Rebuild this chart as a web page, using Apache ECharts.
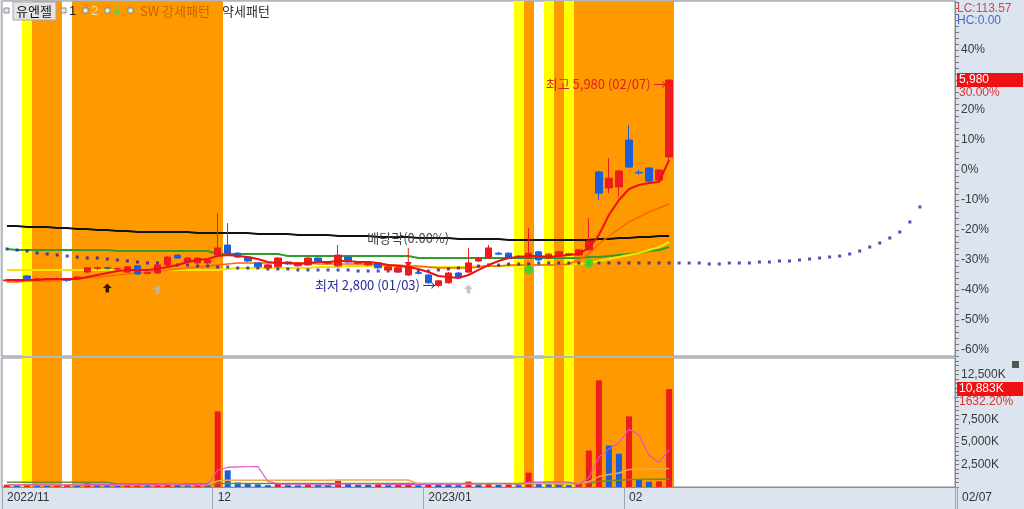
<!DOCTYPE html>
<html><head><meta charset="utf-8">
<script src="https://cdn.jsdelivr.net/npm/echarts@6.0.0/dist/echarts.min.js"></script>
<style>html,body{margin:0;padding:0;background:#fff}#c{width:1024px;height:509px}</style>
</head><body><div id="c"></div>
<script>
// ---------- DATA ----------
const dates = ['2022/11/02','2022/11/03','2022/11/04','2022/11/07','2022/11/08','2022/11/09','2022/11/10','2022/11/11','2022/11/14','2022/11/15','2022/11/16','2022/11/17','2022/11/18','2022/11/21','2022/11/22','2022/11/23','2022/11/24','2022/11/25','2022/11/28','2022/11/29','2022/11/30',
'2022/12/01','2022/12/02','2022/12/05','2022/12/06','2022/12/07','2022/12/08','2022/12/09','2022/12/12','2022/12/13','2022/12/14','2022/12/15','2022/12/16','2022/12/19','2022/12/20','2022/12/21','2022/12/22','2022/12/23','2022/12/26','2022/12/27','2022/12/28','2022/12/29',
'2023/01/02','2023/01/03','2023/01/04','2023/01/05','2023/01/06','2023/01/09','2023/01/10','2023/01/11','2023/01/12','2023/01/13','2023/01/16','2023/01/17','2023/01/18','2023/01/19','2023/01/20','2023/01/25','2023/01/26','2023/01/27','2023/01/30','2023/01/31',
'2023/02/01','2023/02/02','2023/02/03','2023/02/06','2023/02/07'];
const futureSlots = 28;
const monthStartIdx = [0, 21, 42, 62];
const monthLabels = ['2022/11', '12', '2023/01', '02'];
const basePrice = 4600;
const pctLabels = [-60, -50, -40, -30, -20, -10, 0, 10, 20, 30, 40];
const volLabels = [2500, 5000, 7500, 12500];

const open  = [2900,2900,2975,2925,2920,2925,2920,2945,3035,3095,3105,3080,3035,3130,3015,3020,3145,3295,3190,3175,3175,3295,3450,3325,3265,3175,3100,3115,3190,3130,3145,3250,3180,3130,3265,3180,3145,3175,3065,3035,2990,3025,2990,2830,2870,3020,3035,3205,3250,3325,3325,3280,3250,3345,3250,3295,3315,3295,3375,4570,4325,4340,5060,4565,4630,4445,4800];
const close = [2915,2915,2930,2930,2930,2935,2910,2960,3100,3100,3095,3090,3115,3005,3025,3145,3265,3250,3250,3250,3220,3405,3325,3265,3205,3115,3145,3250,3160,3175,3250,3205,3170,3295,3190,3170,3190,3100,3115,3100,3115,3015,2870,2900,3020,2960,3175,3250,3405,3310,3250,3265,3325,3220,3310,3345,3305,3375,3510,4245,4475,4585,4645,4555,4430,4600,5980];
const low   = [2890,2885,2915,2905,2910,2915,2885,2935,3020,3065,3070,3060,3030,2995,3000,3010,3130,3235,3180,3165,3160,3280,3310,3250,3190,3100,3085,3100,3145,3115,3130,3190,3150,3115,3175,3150,3130,3085,3050,3020,2975,3000,2855,2800,2855,2945,3020,3190,3235,3295,3235,3250,3235,3205,3235,3280,3290,3280,3360,4140,4245,4185,4630,4530,4415,4430,4755];
const high  = [2930,2930,2990,2950,2945,2950,2945,2975,3110,3120,3115,3100,3125,3140,3040,3155,3280,3305,3265,3260,3235,3940,3785,3340,3280,3190,3160,3265,3205,3190,3265,3265,3195,3450,3280,3195,3205,3190,3130,3115,3130,3040,3005,2915,3035,3035,3405,3265,3450,3345,3340,3295,3710,3360,3325,3360,3330,3390,3865,4590,4785,4600,5290,4600,4645,4615,5980];

const maRed    = [2913,2913,2913,2913,2929,2929,2929,2929,2959,2990,3021,3051,3067,3067,3067,3082,3113,3143,3189,3220,3235,3281,3297,3281,3266,3235,3189,3174,3174,3159,3174,3189,3189,3205,3205,3189,3189,3174,3143,3128,3113,3082,3036,2975,2959,2944,2990,3067,3143,3205,3251,3266,3281,3281,3266,3281,3297,3312,3404,3603,3910,4140,4309,4370,4401,4416,4753];
const maOrange = [2883,2883,2898,2898,2898,2913,2913,2929,2944,2959,2975,2990,3005,3021,3036,3051,3067,3082,3097,3113,3128,3143,3159,3174,3174,3174,3174,3174,3174,3174,3174,3159,3159,3159,3159,3159,3159,3143,3143,3143,3128,3128,3113,3097,3097,3097,3097,3113,3128,3128,3143,3143,3143,3143,3143,3143,3159,3220,3312,3465,3588,3695,3803,3879,3956,4017,4079];
const maYellow = [3067,3067,3067,3067,3067,3067,3067,3067,3067,3067,3067,3067,3067,3067,3067,3067,3067,3067,3067,3067,3067,3067,3082,3097,3097,3097,3097,3097,3097,3097,3097,3113,3113,3113,3128,3128,3128,3128,3128,3128,3128,3113,3113,3113,3113,3113,3113,3128,3128,3128,3128,3143,3143,3143,3143,3143,3143,3159,3174,3205,3235,3266,3297,3327,3373,3419,3496];
const maGreen  = [3389,3373,3373,3373,3373,3373,3373,3373,3373,3373,3373,3358,3358,3358,3358,3358,3358,3358,3358,3358,3358,3312,3312,3312,3312,3312,3312,3312,3281,3281,3281,3281,3281,3281,3281,3281,3281,3281,3281,3281,3281,3251,3251,3251,3251,3251,3251,3251,3251,3251,3251,3251,3251,3251,3251,3251,3251,3251,3266,3266,3281,3297,3312,3327,3358,3373,3419];
const maBlack  = [3741,3741,3726,3726,3726,3711,3711,3695,3695,3680,3680,3665,3665,3649,3649,3649,3649,3649,3649,3634,3634,3634,3634,3634,3634,3619,3619,3619,3619,3603,3603,3603,3603,3588,3588,3588,3588,3573,3573,3573,3573,3557,3557,3557,3557,3542,3542,3542,3542,3542,3527,3527,3527,3527,3527,3527,3527,3527,3527,3542,3542,3557,3557,3573,3573,3588,3588];
const leadSpan = [3389,3373,3358,3327,3312,3297,3281,3266,3251,3251,3235,3220,3205,3189,3174,3174,3159,3143,3143,3128,3128,3113,3113,3097,3097,3097,3082,3082,3082,3067,3067,3067,3067,3067,3067,3051,3051,3051,3051,3051,3051,3051,3051,3067,3082,3097,3113,3128,3143,3143,3159,3159,3159,3174,3174,3174,3174,3174,3174,3174,3174,3174,3174,3174,3174,3174,3174,3174,3174,3174,3159,3159,3174,3174,3174,3189,3189,3205,3205,3220,3235,3251,3266,3281,3312,3358,3419,3481,3557,3649,3803,4033];

const volume  = [250,200,300,180,150,200,250,180,400,250,200,150,300,350,200,300,400,250,200,220,180,8400,1850,500,350,300,200,350,200,180,300,250,200,700,350,250,220,300,200,250,350,200,400,350,300,200,600,300,450,250,300,200,1600,400,300,250,200,350,4050,11850,4600,3700,7850,850,590,628.276,10883];
const volMa5  = [240,230,240,230,220,220,230,210,260,260,260,240,260,290,260,260,310,320,290,270,250,1890,2170,2230,2250,2280,640,340,280,250,250,240,230,330,360,350,340,360,260,260,260,260,280,310,320,300,370,350,370,360,380,300,560,550,560,550,550,300,1030,3340,4210,4910,6410,5770,3520,2720,4160];
const volMa20 = [260,255,260,255,250,250,255,250,260,260,255,250,255,260,255,260,265,265,260,255,250,660,740,750,760,760,755,760,760,755,760,760,755,780,785,785,780,785,780,780,785,330,330,330,330,320,340,340,350,350,350,345,400,400,400,400,400,400,580,1160,1380,1560,1940,1970,1990,2010,2050];
const volMa60 = [520,520,520,520,520,520,520,520,520,520,520,340,340,340,340,340,340,340,340,340,340,380,380,380,380,380,380,380,380,380,380,380,380,380,380,380,380,380,380,380,380,380,380,380,380,380,380,380,380,380,380,380,380,380,380,380,380,380,450,620,690,740,830,840,850,860,890];

const orangeBands = [[3,5],[7,21],[52,52],[55,55],[57,66]];
const yellowBands = [[2,2],[51,51],[54,54],[56,56]];
const signalUpBlack = [[10, 2790]];
const signalUpGray  = [[15, 2765],[46, 2775]];
const signalGreen   = [[52, 3067],[58, 3174]];
const exDivIdx = 40, exDivText = '배당락(0.00%)';
const legendNames = ['유엔젤', '1', '2', '4', 'SW 강세패턴', '약세패턴'];
const lcText = 'LC:113.57', hcText = 'HC:0.00';

// ---------- BUILD ----------
const N = dates.length, TOTAL = N + futureSlots;
const cats = dates.concat(Array.from({length: futureSlots}, (_, k) => 'F' + (k + 1)));
const RED = '#ee1c1c', BLUE = '#1d5fd6', ORANGE = '#ff9900', YELLOW = '#ffff00';
const FONT = 'Liberation Sans';
const KFONT = 'Noto Sans CJK KR';
const toPrice = p => basePrice * (1 + p / 100);
const yMin = toPrice(-62), yMax = toPrice((170 - 1) / 3);
const volMax = 14333;

const bandRanges = orangeBands.map(r => [r[0], r[1], 0]).concat(yellowBands.map(r => [r[0], r[1], 1]));
const bandColors = [ORANGE, YELLOW];
const bandSeries = (xi, yi) => ({type: 'custom', xAxisIndex: xi, yAxisIndex: yi, data: bandRanges, silent: true, z: 0,
  encode: {x: [0, 1]},
  renderItem: (params, api) => {
    const s = api.value(0), e = api.value(1), c = bandColors[api.value(2)];
    const w = api.size([1, 0])[0];
    const x0 = Math.round(api.coord([s, 0])[0] - w / 2), x1 = Math.round(api.coord([e, 0])[0] + w / 2);
    const cs = params.coordSys;
    return {type: 'rect', shape: {x: x0, y: cs.y, width: x1 - x0, height: cs.height}, style: {fill: c}};
  }});

const candleData = dates.map((d, i) => [open[i], close[i], low[i], high[i]]);
const volData = volume.map((v, i) => ({value: v, itemStyle: {color: (i === 0 || v >= volume[i - 1]) ? RED : BLUE}}));

const pctTicks = []; for (let p = -62; p <= 56; p += 2) pctTicks.push(toPrice(p));
const volTicks = []; for (let v = 0; v <= 14000; v += 500) volTicks.push(v);

let hiIdx = 0, loIdx = 0;
high.forEach((v, i) => { if (v > high[hiIdx]) hiIdx = i; });
low.forEach((v, i) => { if (v < low[loIdx]) loIdx = i; });
const mmdd = s => s.slice(5);
const fmt = v => Math.round(v).toLocaleString('en-US');
const isMonthStart = idx => monthStartIdx.indexOf(idx) >= 0;

const lineS = (data, color, width, z) => ({type: 'line', xAxisIndex: 0, yAxisIndex: 0, data, showSymbol: false, symbol: 'none',
  lineStyle: {color, width}, z, silent: true, animation: false});
const volLine = (data, color, width) => ({type: 'line', xAxisIndex: 2, yAxisIndex: 1, data, showSymbol: false, symbol: 'none',
  lineStyle: {color, width}, z: 4, silent: true});
const arrowUp = 'path://M5,0 L10,5 L7,5 L7,10 L3,10 L3,5 L0,5 Z';
const arrowDown = 'path://M3,0 L4,0 L4,14 L7,14 L3.5,20 L0,14 L3,14 Z';

const chart = echarts.init(document.getElementById('c'));
const option = {
  animation: false,
  backgroundColor: '#dbe4ef',
  grid: [
    {left: 2, top: 1, width: 953, height: 355, show: true, backgroundColor: '#fff', borderColor: '#8c8c8c', borderWidth: 1},
    {left: 2, top: 358, width: 953, height: 129, show: true, backgroundColor: '#fff', borderColor: '#8c8c8c', borderWidth: 1}
  ],
  xAxis: [
    {type: 'category', gridIndex: 0, data: cats, boundaryGap: true, axisLine: {show: false}, axisTick: {show: false}, axisLabel: {show: false}, splitLine: {show: false}},
    {type: 'category', gridIndex: 1, data: cats, boundaryGap: true,
      axisLine: {show: true, lineStyle: {color: '#8c8c8c'}},
      axisTick: {show: true, interval: isMonthStart, length: 22, lineStyle: {color: '#9aa6b4'}},
      axisLabel: {show: true, interval: isMonthStart, formatter: (v, idx) => monthLabels[monthStartIdx.indexOf(idx)] || '',
        align: 'left', margin: 5, color: '#333', fontSize: 12, fontFamily: FONT}},
    {type: 'category', gridIndex: 1, data: cats, boundaryGap: true, show: false}
  ],
  yAxis: [
    {type: 'value', gridIndex: 0, position: 'right', min: yMin, max: yMax,
      axisLine: {show: true, lineStyle: {color: '#8c8c8c'}},
      axisTick: {show: true, customValues: pctTicks, length: 4, lineStyle: {color: '#777'}},
      axisLabel: {show: true, customValues: pctLabels.map(toPrice), formatter: v => Math.round((v / basePrice - 1) * 100) + '%',
        color: '#3a3a3a', fontSize: 12, fontFamily: FONT, margin: 6},
      splitLine: {show: false}},
    {type: 'value', gridIndex: 1, position: 'right', min: 0, max: volMax,
      axisLine: {show: true, lineStyle: {color: '#8c8c8c'}},
      axisTick: {show: true, customValues: volTicks, length: 4, lineStyle: {color: '#777'}},
      axisLabel: {show: true, customValues: volLabels, formatter: v => fmt(v) + 'K', color: '#3a3a3a', fontSize: 12, fontFamily: FONT, margin: 6},
      splitLine: {show: false}},
    {type: 'value', gridIndex: 0, min: 0, max: 1, show: false},
    {type: 'value', gridIndex: 1, min: 0, max: 1, show: false}
  ],
  series: [
    bandSeries(0, 2),
    bandSeries(1, 3),
    lineS(maBlack, '#111', 2, 3),
    lineS(maGreen, '#2f9e2f', 2, 3),
    lineS(maYellow, '#f2e600', 2, 3),
    lineS(maOrange, '#ff6600', 1.5, 3),
    {type: 'scatter', xAxisIndex: 0, yAxisIndex: 0, data: leadSpan.map((v, i) => [i, v]), symbol: 'rect', symbolSize: [3, 3],
      itemStyle: {color: '#23239a'}, z: 3, silent: true},
    {type: 'candlestick', xAxisIndex: 0, yAxisIndex: 0, data: candleData, barWidth: 7, z: 5,
      itemStyle: {color: RED, color0: BLUE, borderColor: RED, borderColor0: BLUE, borderWidth: 1},
      markPoint: {symbolSize: 0, silent: true, data: [
        {coord: [hiIdx, high[hiIdx]], symbol: 'circle', symbolSize: 1, itemStyle: {color: 'rgba(0,0,0,0)'},
          label: {show: true, position: 'left', distance: 2, offset: [0, 4], formatter: '최고 ' + fmt(high[hiIdx]) + ' (' + mmdd(dates[hiIdx]) + ') →',
            color: '#e02020', fontSize: 13, fontFamily: KFONT}},
        {coord: [loIdx, low[loIdx]], symbol: 'circle', symbolSize: 1, itemStyle: {color: 'rgba(0,0,0,0)'},
          label: {show: true, position: 'left', distance: 2, offset: [0, -2], formatter: '최저 ' + fmt(low[loIdx]) + ' (' + mmdd(dates[loIdx]) + ') →',
            color: '#2a2aa0', fontSize: 13, fontFamily: KFONT}},
        {coord: [exDivIdx, 3251], symbol: arrowDown, symbolSize: [7, 20], itemStyle: {color: RED},
          label: {show: true, position: 'top', distance: 3, formatter: exDivText, color: '#444', fontSize: 13, fontFamily: KFONT}}
      ]}},
    lineS(maRed, '#ee1111', 2, 6),
    {type: 'scatter', xAxisIndex: 0, yAxisIndex: 0, data: signalUpBlack, symbol: arrowUp, symbolSize: [9, 9], itemStyle: {color: '#000'}, z: 7, silent: true},
    {type: 'scatter', xAxisIndex: 0, yAxisIndex: 0, data: signalUpGray, symbol: arrowUp, symbolSize: [9, 9], itemStyle: {color: '#b8b8b8'}, z: 7, silent: true},
    {type: 'scatter', xAxisIndex: 0, yAxisIndex: 0, data: signalGreen, symbol: 'circle', symbolSize: 9, itemStyle: {color: '#22dd33'}, z: 7, silent: true},
    {type: 'bar', xAxisIndex: 2, yAxisIndex: 1, data: volData, barWidth: 6, z: 3, silent: true},
    volLine(volMa60, '#6a8f2a', 1.5),
    volLine(volMa20, '#f0a850', 1.5),
    volLine(volMa5, '#e050c8', 1.2)
  ]
};
chart.setOption(option);

// data-driven tags in the axis area
const yLast = chart.convertToPixel({yAxisIndex: 0}, close[N - 1]);
const yVol = chart.convertToPixel({yAxisIndex: 1}, volume[N - 1]);
const chg = ((close[N - 1] / close[N - 2] - 1) * 100).toFixed(2) + '%';
const vchg = ((volume[N - 1] / volume[N - 2] - 1) * 100).toFixed(2) + '%';
const g = [];
const sq = (x) => ({type: 'rect', shape: {x: x, y: 8, width: 5, height: 5}, style: {fill: '#e8e8e8', stroke: '#888', lineWidth: 1}, z: 100});
g.push(sq(4), sq(61), sq(83), sq(105), sq(128));
g.push({type: 'rect', shape: {x: 13, y: 2, width: 43, height: 18}, style: {fill: '#e4e4e4', stroke: '#a8a8a8', lineWidth: 1}, z: 100});
const tx = (x, y, text, color, size, font) => ({type: 'text', x, y, z: 101,
  style: {text, fill: color, font: size + 'px "' + font + '"', verticalAlign: 'middle', align: 'left'}});
g.push(tx(16, 11, legendNames[0], '#111', 13, KFONT));
g.push(tx(69, 11, legendNames[1], '#222', 13, FONT));
g.push(tx(91, 11, legendNames[2], '#ffd8a8', 13, FONT));
g.push(tx(113, 11, legendNames[3], '#55d040', 13, FONT));
g.push(tx(140, 11, legendNames[4], '#c86400', 13, KFONT));
g.push(tx(222, 11, legendNames[5], '#333', 13, KFONT));
g.push(tx(957, 9, lcText, '#d04848', 12, FONT));
g.push(tx(957, 21, hcText, '#4a66cc', 12, FONT));
g.push({type: 'rect', shape: {x: 957, y: yLast - 7, width: 66, height: 14}, style: {fill: '#ee1111'}, z: 100});
g.push(tx(959, yLast, fmt(close[N - 1]), '#fff', 12, FONT));
g.push(tx(959, yLast + 13, chg, '#e03030', 12, FONT));
g.push({type: 'rect', shape: {x: 957, y: yVol - 7, width: 66, height: 14}, style: {fill: '#ee1111'}, z: 100});
g.push(tx(959, yVol, fmt(volume[N - 1]) + 'K', '#fff', 12, FONT));
g.push(tx(959, yVol + 13, vchg, '#e03030', 12, FONT));
g.push({type: 'line', shape: {x1: 957.5, y1: 487, x2: 957.5, y2: 509}, style: {stroke: '#9aa6b4'}, z: 100});
g.push(tx(962, 498, mmdd(dates[N - 1]), '#333', 12, FONT));
g.push({type: 'rect', shape: {x: 1012, y: 361, width: 7, height: 7}, style: {fill: '#555'}, z: 100});
chart.setOption({graphic: g});
</script></body></html>
